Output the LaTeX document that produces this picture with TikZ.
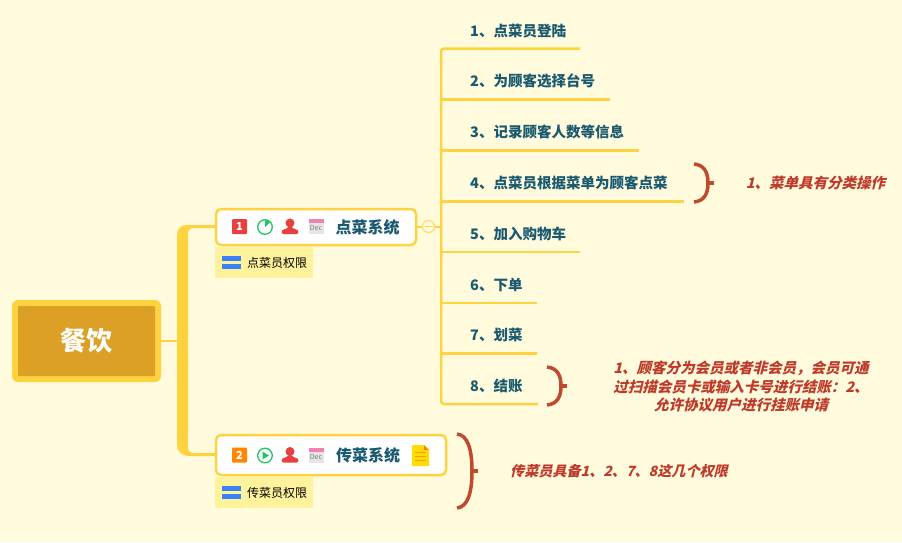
\documentclass[tikz,border=0pt]{standalone}
\usepackage{fontspec}
\setmainfont{Noto Sans CJK SC}
\newfontfamily\cjkit[FakeSlant=0.25]{Noto Sans CJK SC}
\definecolor{paper}{HTML}{FFFBDC}
\definecolor{gold}{HTML}{FFD33F}
\definecolor{rootfill}{HTML}{DDA026}
\definecolor{teal}{HTML}{1A5A70}
\definecolor{notered}{HTML}{BE3A2B}
\definecolor{bracered}{HTML}{BF4A2D}
\definecolor{labelbg}{HTML}{FFF29C}
\definecolor{barblue}{HTML}{3B82F6}
\definecolor{iconred}{HTML}{E8403E}
\definecolor{icongreen}{HTML}{1DC766}
\definecolor{datepink}{HTML}{F47FB2}
\tikzset{
	topicbox/.style={draw=gold,line width=2.5pt,fill=white,rounded corners=5pt,inner sep=0pt},
	itemtext/.style={anchor=west,inner sep=0pt,text=teal,font=\fontsize{14.5}{18}\selectfont\bfseries},
	topictext/.style={inner sep=0pt,text=teal,font=\fontsize{16}{20}\selectfont\bfseries},
	notetext/.style={inner sep=0pt,align=center,text=notered,font=\fontsize{14.5}{18.5}\selectfont\cjkit\bfseries},
	tagbox/.style={fill=labelbg,inner sep=0pt,minimum width=98pt,minimum height=31pt},
	tagtext/.style={inner sep=0pt,font=\fontsize{12}{14}\selectfont},
	branch/.style={draw=gold,line width=2.5pt},
	bracket/.style={draw=bracered,line width=3.5pt},
}
\begin{document}
\begin{tikzpicture}[x=1pt,y=-1pt,line join=round]
		\fill[paper] (0,0) rectangle (902,542);
		\useasboundingbox (0,0) rectangle (902,542);
		% small icons
		\def\usericon(#1,#2){
			\fill[iconred] (#1,#2-3) circle (4.5pt);
			\fill[iconred,rounded corners=2pt] (#1-8.5,#2+8) .. controls (#1-8.5,#2+3) and (#1-3,#2+3) .. (#1-2.5,#2) -- (#1+2.5,#2) .. controls (#1+3,#2+3) and (#1+8.5,#2+3) .. (#1+8.5,#2+8) -- cycle;
		}
		\def\dateicon(#1,#2){
			\fill[black!10] (#1-7.5,#2-7.5) rectangle (#1+7.5,#2+7.5);
			\fill[datepink] (#1-7.5,#2-7.5) rectangle (#1+7.5,#2-3.5);
			\node[inner sep=0pt,text=black!50,font=\fontsize{7}{7}\selectfont] at (#1,#2+1.5) {Dec};
		}
		\def\tagbars(#1,#2){
			\fill[barblue] (#1-9.5,#2-7.5) rectangle (#1+9.5,#2-2.5);
			\fill[barblue] (#1-9.5,#2+1) rectangle (#1+9.5,#2+6);
		}
		% trunk
		\fill[gold] (215,225)--(187,225) .. controls (181,225) and (177,229) .. (177,235)--(177,445) .. controls (177,452) and (182,456) .. (190,456)--(215,456)--(215,453)--(194,453) .. controls (190,453) and (188,451) .. (188,447)--(188,234) .. controls (188,230) and (190,228) .. (194,228)--(215,228)--cycle;
		% root
		\node[fill=gold,rounded corners=6pt,minimum width=149pt,minimum height=82pt,inner sep=0pt] (root) at (86.5,341) {};
		\node[fill=rootfill,rounded corners=1pt,minimum width=137pt,minimum height=70pt,inner sep=0pt,text=white,font=\fontsize{26}{28}\selectfont\bfseries] (rootname) at (root.center) {餐饮};
		\coordinate (rootjoin) at (178,341);
		\draw[branch] (root.east)--(rootjoin);
		% first topic
		\node[topicbox,minimum width=200pt,minimum height=36pt] (topic1) at (316,227) {};
		\node[topictext] (title1) at (367.5,227) {点菜系统};
		\node[tagbox] (tag1) at (264,262.5) {};
		\node[tagtext] (tagname1) at (277,263) {点菜员权限};
		\tagbars(231.5,263)
		\fill[iconred,rounded corners=1pt] (232,219) rectangle (247,234);
		\node[inner sep=0pt,text=white,font=\fontsize{11}{11}\selectfont\bfseries] (num1) at (239.5,226.5) {1};
		\draw[icongreen,line width=1.3pt] (265,227) circle (7.3pt);
		\fill[icongreen] (265,227)--(265,220)--(270.5,222)--cycle;
		\usericon(290,226)
		\dateicon(316,226.5)
		% second topic
		\node[topicbox,minimum width=230pt,minimum height=40pt] (topic2) at (331,455) {};
		\node[topictext] (title2) at (368,455) {传菜系统};
		\node[tagbox] (tag2) at (264,492.5) {};
		\node[tagtext] (tagname2) at (277,493) {传菜员权限};
		\tagbars(231.5,493)
		\fill[orange!95!yellow,rounded corners=1pt] (232,447.5) rectangle (247,462.5);
		\node[inner sep=0pt,text=white,font=\fontsize{11}{11}\selectfont\bfseries] (num2) at (239.5,455) {2};
		\draw[icongreen,line width=1.3pt] (265,455.5) circle (7.3pt);
		\fill[icongreen] (262.5,451.5)--(269,455.5)--(262.5,459.5)--cycle;
		\usericon(290,454.5)
		\dateicon(316,455)
		\fill[yellow!80!orange] (412,445)--(424,445)--(429,450)--(429,466)--(412,466)--cycle;
		\fill[orange] (424,445)--(429,450)--(424,450)--cycle;
		\foreach \ny in {452,456,460}
		\draw[orange!80!yellow,line width=0.8pt] (415,\ny)--(426,\ny);
		% items on the first topic
		\coordinate (spinejoin) at (441,227);
		\draw[branch] (topic1.east)--(spinejoin);
		\node[circle,draw=gold!75,line width=1.3pt,fill=paper,minimum size=12pt,inner sep=0pt] (fold1) at (428.5,226.5) {};
		\draw[gold,line width=1.4pt] (424.5,226.5)--(432.5,226.5);
		\foreach \n/\ty/\ly/\xe/\lab in {
			1/31/48.5/580/1、点菜员登陆,
			2/81/99.5/610/2、为顾客选择台号,
			3/132/150.5/639/3、记录顾客人数等信息,
			4/183/201.5/684/4、点菜员根据菜单为顾客点菜,
			5/234/252/580/5、加入购物车,
			6/285/303/537/6、下单,
			7/335/353.5/537/7、划菜,
			8/386/404/538/8、结账}{
			\node[itemtext] (item\n) at (470,\ty) {\lab};
			\coordinate (spine\n) at (441,\ly);
			\coordinate (end\n) at (\xe,\ly);
		}
		\draw[branch,rounded corners=3pt] (end1)--(spine1)--(spine8)--(end8);
		\foreach \n in {2,...,7}
		\draw[branch] (spine\n)--(end\n);
		% brackets
		\foreach \n/\bx/\by/\bh/\bw/\bt in {1/694/183/19/14/6,2/547/386/19/14/6,3/457/471/37/15/5.5}{
			\draw[bracket] (\bx,\by-\bh) .. controls (\bx+0.7*\bw,\by-\bh+1) and (\bx+\bw,\by-0.6*\bh) .. (\bx+\bw,\by) .. controls (\bx+\bw,\by+0.6*\bh) and (\bx+0.7*\bw,\by+\bh-1) .. (\bx,\by+\bh);
			\draw[bracket] (\bx+\bw,\by)--(\bx+\bw+\bt,\by);
		}
		% notes
		\node[notetext] (note1) at (815.5,183) {1、菜单具有分类操作};
		\node[notetext] (note2) at (741,386.5) {1、顾客分为会员或者非会员\char"FF0C 会员可通\\过扫描会员卡或输入卡号进行结账\char"FF1A 2、\\允许协议用户进行挂账申请};
		\node[notetext,font=\fontsize{14.1}{18}\selectfont\cjkit\bfseries] (note3) at (619,471) {传菜员具备1、2、7、8这几个权限};
\end{tikzpicture}
\end{document}
